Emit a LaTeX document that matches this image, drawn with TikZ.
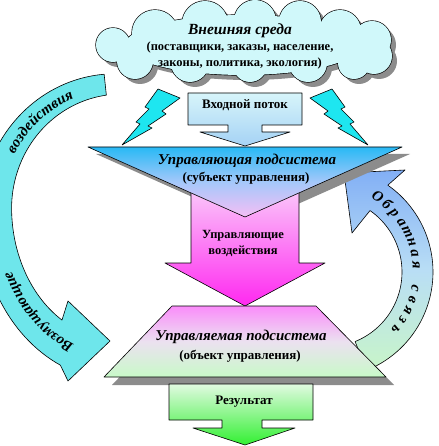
\documentclass[tikz,border=0pt]{standalone}
\usepackage{fontspec}
\setmainfont{Liberation Serif}
\usetikzlibrary{decorations.text}
\definecolor{cloudfill}{RGB}{208,248,250}
\definecolor{bolt}{RGB}{30,230,240}
\definecolor{shadegray}{RGB}{140,140,140}
\definecolor{inTop}{RGB}{215,245,250}
\definecolor{inBot}{RGB}{165,210,245}
\definecolor{triTop}{RGB}{40,185,245}
\definecolor{triMid}{RGB}{165,200,250}
\definecolor{triBot}{RGB}{245,190,245}
\definecolor{pinkTop}{RGB}{250,205,250}
\definecolor{pinkBot}{RGB}{255,40,240}
\definecolor{trapTop}{RGB}{250,140,250}
\definecolor{trapMid}{RGB}{235,225,240}
\definecolor{trapBot}{RGB}{200,250,200}
\definecolor{resTop}{RGB}{225,250,225}
\definecolor{resBot}{RGB}{50,240,50}
\definecolor{leftArr}{RGB}{110,230,235}
\definecolor{fbTop}{RGB}{130,175,245}
\definecolor{fbMid}{RGB}{185,222,245}
\definecolor{fbBot}{RGB}{200,245,200}
\newcommand{\cloudblobs}{%
  (243,45) ellipse [x radius=118,y radius=30]
  (155,33) circle [radius=23]
  (205,24) circle [radius=23]
  (255,21) circle [radius=21]
  (300,22) circle [radius=21]
  (340,31) circle [radius=21]
  (113,45) circle [radius=17]
  (372,40) circle [radius=19]
  (374,56) circle [radius=18]
  (135,61) circle [radius=18]
  (190,63) circle [radius=19]
  (250,65) circle [radius=17]
  (308,63) circle [radius=19]
  (354,63) circle [radius=16]}
\begin{document}
\begin{tikzpicture}[x=1pt,y=-1pt,line join=round,
  edge/.style={draw=black,line width=0.6pt},
  shadowfill/.style={fill=shadegray,draw=none},
  lab/.style={inner sep=0pt,align=center},
  arcch/.style={font=\fontsize{15}{15}\selectfont\bfseries\itshape,inner sep=0pt,anchor=base},
  declare function={lw(\t)=10.5+(\t-96)/147*9; lry(\t)=ifthenelse(\t<180,128,148);}]
\useasboundingbox (0,0) rectangle (438,446);

% left curved arrow (Возмущающие воздействия)
\path[edge,fill=leftArr]
  plot[domain=96:246,samples=70,variable=\t] ({118+(122+lw(\t))*cos(\t)},{212-(lry(\t)+lw(\t))*sin(\t)})
  -- (68,381) -- (110,341) -- (68,301)
  -- plot[domain=237:96,samples=70,variable=\t] ({118+(122-lw(\t))*cos(\t)},{212-(lry(\t)-lw(\t))*sin(\t)})
  -- cycle;
\path[decorate,decoration={text along path,text align=center,
  text={|\fontsize{15}{15}\selectfont\bfseries\itshape|Возмущающие}}]
  plot[domain=253:200,samples=40,variable=\t] ({118+117*cos(\t)},{212-143*sin(\t)});
\path[decorate,decoration={text along path,text align=center,
  text={|\fontsize{15}{15}\selectfont\bfseries\itshape|воздействия}}]
  plot[domain=162:102,samples=40,variable=\t] ({118+117*cos(\t)},{212-123*sin(\t)});

% right curved arrow (Обратная связь)
\path[edge,top color=fbTop,bottom color=fbBot,middle color=fbMid]
  plot[domain=-68:55,samples=60,variable=\t] ({327+106*cos(\t)},{272-106*sin(\t)})
  -- (405,170) -- (344,173) -- (352,233)
  -- plot[domain=55:-68,samples=60,variable=\t] ({327+75*cos(\t)},{272-75*sin(\t)})
  -- cycle;
\foreach \ch/\t [count=\i] in {О/56,б/48.6,р/41.2,а/33.8,т/26.5,н/19.1,а/11.7,я/4.3,с/-10.4,в/-17.8,я/-25.2,з/-32.6,ь/-40}{
  \pgfmathsetmacro{\rot}{\t-90}
  \node[arcch,rotate=\rot] (fb\i) at ({327+86*cos(\t)},{272-86*sin(\t)}) {\ch};
}

% cloud
\fill[shadegray,shift={(5,5)}] \cloudblobs;
\draw[black,line width=1.3pt] \cloudblobs;
\fill[cloudfill] \cloudblobs;
\coordinate (cloud) at (243,44);

% lightning bolts
\path[edge,fill=bolt] (180,98) -- (158,89) -- (145,107) -- (149,109) -- (136,122) -- (140,124) -- (122,145) -- (152,128) -- (148,126) -- (166,114) -- (162,111) -- cycle;
\path[edge,fill=bolt] (310,98) -- (332,89) -- (345,107) -- (341,109) -- (354,122) -- (350,124) -- (368,145) -- (338,128) -- (342,126) -- (324,114) -- (328,111) -- cycle;

% input callout
\path[edge,top color=inTop,bottom color=inBot] (188,93) -- (302,93) -- (302,125) -- (262,125) -- (262,132) -- (290,132) -- (245,146) -- (200,132) -- (228,132) -- (228,125) -- (188,125) -- cycle;

% triangle shadow, pink arrow, triangle
\path[shadowfill] (96,154) -- (410,154) -- (253,224) -- cycle;
\path[edge,top color=pinkTop,bottom color=pinkBot] (191,185) -- (299,185) -- (299,263) -- (325,263) -- (245,306) -- (165,263) -- (191,263) -- cycle;
\path[edge,top color=triTop,bottom color=triBot,middle color=triMid] (88,147) -- (402,147) -- (245,217) -- cycle;

% trapezoid
\path[shadowfill] (180,314) -- (324,314) -- (394,385) -- (112,385) -- cycle;
\path[edge,top color=trapTop,bottom color=trapBot,middle color=trapMid] (172,306) -- (316,306) -- (386,377) -- (104,377) -- cycle;

% result callout
\path[edge,top color=resTop,bottom color=resBot] (169,384) -- (313,384) -- (313,420) -- (262,420) -- (262,428) -- (295,428) -- (245,445) -- (193,428) -- (222,428) -- (222,420) -- (169,420) -- cycle;

% texts
\node[lab,font=\fontsize{15.5}{15}\selectfont\bfseries\itshape] (envT) at (240,31) {Внешняя среда};
\node[lab,font=\fontsize{12.5}{15.5}\selectfont\bfseries] (envS) at (240,55.5) {(поставщики, заказы, население,\\законы, политика, экология)};
\node[lab,font=\fontsize{13}{15}\selectfont\bfseries] (inT) at (245,105) {Входной поток};
\node[lab,font=\fontsize{15}{15}\selectfont\bfseries\itshape] (topT) at (247,161) {Управляющая подсистема};
\node[lab,font=\fontsize{13}{15}\selectfont\bfseries] (topS) at (246,178) {(субъект управления)};
\node[lab,font=\fontsize{12.5}{15.5}\selectfont\bfseries] (midT) at (243,243.5) {Управляющие\\воздействия};
\node[lab,font=\fontsize{15}{15}\selectfont\bfseries\itshape] (botT) at (241,337) {Управляемая подсистема};
\node[lab,font=\fontsize{13}{15}\selectfont\bfseries] (botS) at (240,356) {(объект управления)};
\node[lab,font=\fontsize{13}{15}\selectfont\bfseries] (resT) at (244,402) {Результат};
\end{tikzpicture}
\end{document}
